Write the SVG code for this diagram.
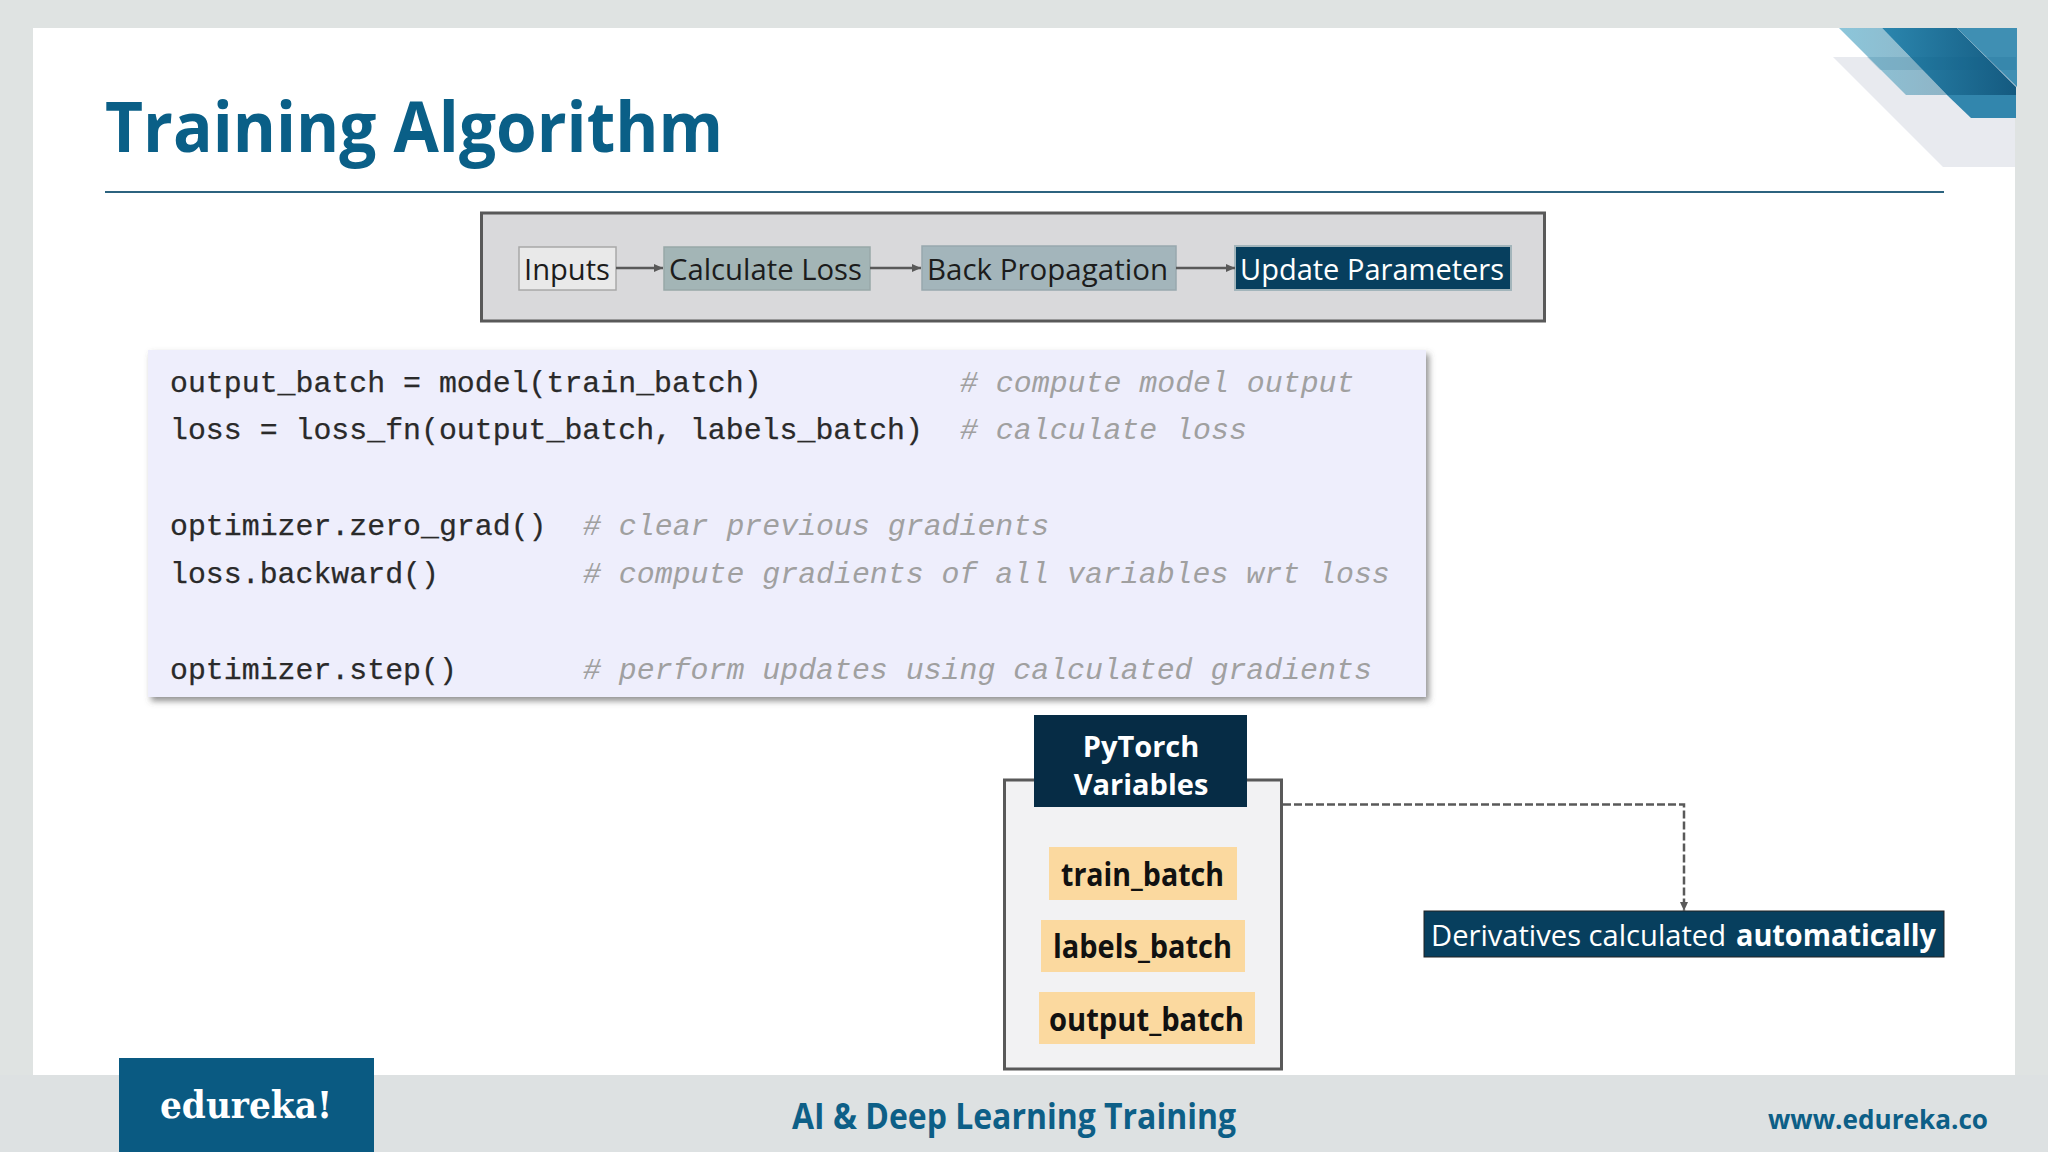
<svg xmlns="http://www.w3.org/2000/svg" width="2048" height="1152" viewBox="0 0 2048 1152">
<style>
.ui{font-family:"Open Sans","Noto Sans",sans-serif}
.flow{font-size:30px;fill:#1c1c1c}
.var{font-size:32px;font-weight:700;fill:#111}
.code{font-family:"Liberation Mono",monospace;font-size:29.88px;fill:#2a2a2a;white-space:pre;stroke:#2a2a2a;stroke-width:.25px}
.cm{font-style:italic;fill:#a0a0a0;stroke:none}
.edge{fill:none;stroke:#595959}
.pill{fill:#fbd99f}
</style>
<defs>
<marker id="ah" markerWidth="10" markerHeight="10" refX="9" refY="4" orient="auto" markerUnits="userSpaceOnUse"><path d="M0 0L9 4L0 8Z" fill="#595959"/></marker>
<filter id="sh" x="-3%" y="-5%" width="106%" height="112%"><feDropShadow dx="3" dy="4" stdDeviation="3" flood-color="#555" flood-opacity=".65"/></filter>
<linearGradient id="g1" x1="0" x2="1" y1="0" y2="0"><stop offset="0" stop-color="#2b86ae"/><stop offset="1" stop-color="#145a80"/></linearGradient>
<linearGradient id="g2" x1="0" x2="1" y1="0" y2="0"><stop offset="0" stop-color="#8cc6da"/><stop offset="1" stop-color="#8fb4c6"/></linearGradient>
</defs>
<rect width="2048" height="1152" fill="#dfe3e2"/>
<rect x="33" y="28" width="1982" height="1047" fill="#fff"/>
<g id="corner">
<path d="M1833 57H2015V167H1943Z" fill="#e8eaef"/>
<path d="M1839 28H1882L1947 95H1906Z" fill="url(#g2)"/>
<path d="M1882 28H1957L2016 87V95H1947Z" fill="url(#g1)"/>
<path d="M1957 28H2017V87Z" fill="#3f8fb3"/>
<path d="M1947 95H2016V118H1971Z" fill="#3286ad"/>
<path d="M1867 57H2016V70H1880Z" fill="#0f5f85" opacity=".15"/>
</g>
<text id="title" class="ui" x="105" y="152" font-size="70" font-weight="700" fill="#0a5f87" textLength="618" lengthAdjust="spacingAndGlyphs">Training Algorithm</text>
<line x1="105" y1="192" x2="1944" y2="192" stroke="#2c637f" stroke-width="2"/>

<g id="pipeline"><rect x="481.500" y="213" width="1063" height="108" fill="#d9d9db" stroke="#595959" stroke-width="3"/></g>
<g id="inputs"><rect x="519" y="247" width="97" height="43" fill="#e9e9e9" stroke="#a8a8a8" stroke-width="1.500"/><text class="ui flow" x="524" y="280" textLength="86" lengthAdjust="spacingAndGlyphs">Inputs</text></g>
<g id="calculate-loss"><rect x="664" y="247" width="206" height="43" fill="#a3b5b6" stroke="#98a8a8" stroke-width="1.500"/><text class="ui flow" x="669" y="280" textLength="193" lengthAdjust="spacingAndGlyphs">Calculate Loss</text></g>
<g id="back-propagation"><rect x="922" y="246" width="254" height="44" fill="#a3b5bb" stroke="#98a8ae" stroke-width="1.500"/><text class="ui flow" x="927" y="280" textLength="241" lengthAdjust="spacingAndGlyphs">Back Propagation</text></g>
<g id="update-parameters"><rect x="1235" y="246" width="276" height="44" fill="#073f5e" stroke="#a3b5bb" stroke-width="2"/><text class="ui flow" x="1240" y="280" textLength="264" lengthAdjust="spacingAndGlyphs" style="fill:#fff">Update Parameters</text></g>

<g id="code">
<rect x="148" y="350" width="1278" height="347" fill="#eeeefc" filter="url(#sh)"/>
<text class="code" x="170" y="392">output_batch = model(train_batch)</text><text class="code cm" x="960" y="392"># compute model output</text>
<text class="code" x="170" y="439">loss = loss_fn(output_batch, labels_batch)</text><text class="code cm" x="960" y="439"># calculate loss</text>
<text class="code" x="170" y="535">optimizer.zero_grad()</text><text class="code cm" x="583" y="535"># clear previous gradients</text>
<text class="code" x="170" y="583">loss.backward()</text><text class="code cm" x="583" y="583"># compute gradients of all variables wrt loss</text>
<text class="code" x="170" y="679">optimizer.step()</text><text class="code cm" x="583" y="679"># perform updates using calculated gradients</text>
</g>

<g id="variables-panel"><rect x="1004.500" y="780" width="277" height="289" fill="#f2f2f3" stroke="#595959" stroke-width="3"/></g>
<g id="pytorch-variables"><rect x="1034" y="715" width="213" height="92" fill="#062c45"/>
<text class="ui" text-anchor="middle" font-size="29" font-weight="700" fill="#fff"><tspan x="1141" y="757">PyTorch</tspan><tspan x="1141" y="795">Variables</tspan></text></g>
<g id="train-batch"><rect class="pill" x="1049" y="847" width="188" height="53"/><text class="ui var" x="1061" y="886" textLength="163" lengthAdjust="spacingAndGlyphs">train_batch</text></g>
<g id="labels-batch"><rect class="pill" x="1041" y="920" width="204" height="52"/><text class="ui var" x="1053" y="958" textLength="179" lengthAdjust="spacingAndGlyphs">labels_batch</text></g>
<g id="output-batch"><rect class="pill" x="1039" y="992" width="216" height="52"/><text class="ui var" x="1049" y="1031" textLength="195" lengthAdjust="spacingAndGlyphs">output_batch</text></g>
<g id="derivatives"><rect x="1424" y="911" width="520" height="46" fill="#073f5e" stroke="#222" stroke-width="1"/>
<text class="ui" x="1431" y="946" font-size="30" fill="#fff" textLength="295" lengthAdjust="spacingAndGlyphs">Derivatives calculated</text>
<text class="ui" x="1736" y="946" font-size="30" font-weight="700" fill="#fff" textLength="200" lengthAdjust="spacingAndGlyphs">automatically</text></g>

<g id="connectors">
<path class="edge" stroke-width="2.500" marker-end="url(#ah)" d="M616 268H663"/>
<path class="edge" stroke-width="2.500" marker-end="url(#ah)" d="M870 268H921"/>
<path class="edge" stroke-width="2.500" marker-end="url(#ah)" d="M1176 268H1235"/>
<path class="edge" stroke-width="2.500" stroke-dasharray="8 3" marker-end="url(#ah)" d="M1283 804.500H1684V911"/>
</g>

<rect x="0" y="1075" width="2048" height="77" fill="#dde1e2"/>
<g id="logo"><rect x="119" y="1058" width="255" height="94" fill="#0a5a82"/><text x="160" y="1118" font-family="'DejaVu Serif',serif" font-weight="700" font-size="38" fill="#fff" textLength="172" lengthAdjust="spacingAndGlyphs">edureka!</text></g>
<text id="course" class="ui" x="792" y="1129" font-size="35" font-weight="700" fill="#0d5f87" textLength="444" lengthAdjust="spacingAndGlyphs">AI &amp; Deep Learning Training</text>
<text id="site" class="ui" x="1768" y="1129" font-size="27" font-weight="700" fill="#0d5f87" textLength="220" lengthAdjust="spacingAndGlyphs">www.edureka.co</text>
</svg>
